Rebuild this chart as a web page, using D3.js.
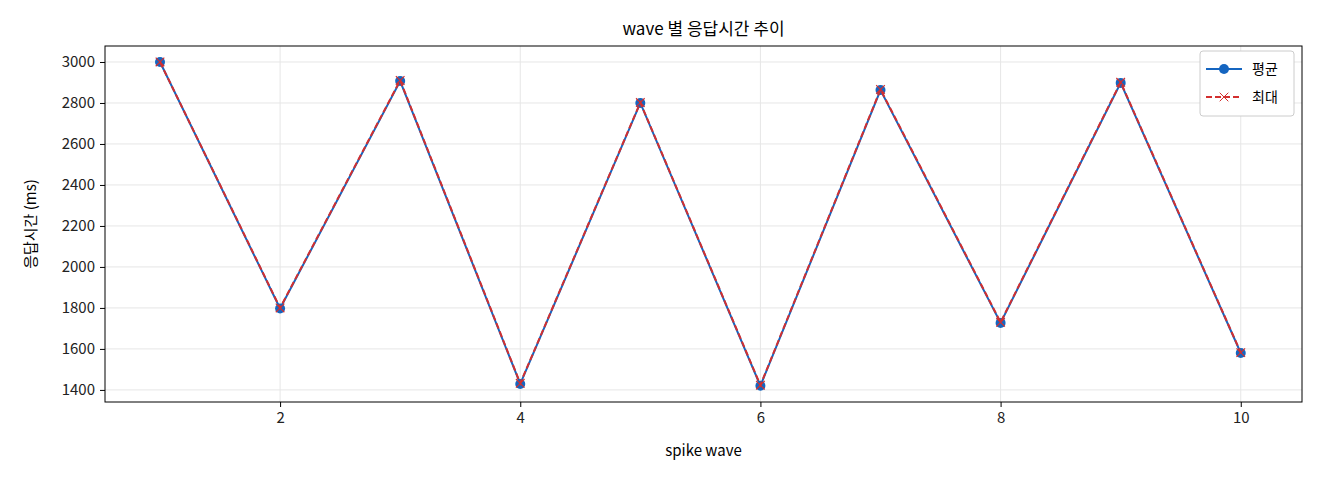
<!DOCTYPE html><html><head><meta charset="utf-8"><script src="https://cdn.jsdelivr.net/npm/d3@7"></script>
<style>body{margin:0;background:#fff}text{font-family:"Noto Sans CJK KR","Noto Sans",sans-serif}</style></head><body><svg id="c" width="1320" height="480"></svg><script>
const waves=[1,2,3,4,5,6,7,8,9,10];
const avgMs=[3000,1797,2907,1429,2800,1420,2863,1727,2898,1580];
const maxMs=[3000,1800,2910,1432,2802,1423,2866,1730,2901,1582];
const yTicks=[1400,1600,1800,2000,2200,2400,2600,2800,3000];
const xTicks=[2,4,6,8,10];
const svg=d3.select("#c");
const L=105,R=1302,T=46,B=402;
const x=d3.scaleLinear().domain([0.542,10.51]).range([L,R]);
const y=d3.scaleLinear().domain([1341,3078]).range([B,T]);
const g=svg.append("g");
g.selectAll(".gx").data(xTicks).join("line").attr("x1",d=>x(d)).attr("x2",d=>x(d)).attr("y1",T).attr("y2",B).attr("stroke","#e6e6e6");
g.selectAll(".gy").data(yTicks).join("line").attr("y1",d=>y(d)).attr("y2",d=>y(d)).attr("x1",L).attr("x2",R).attr("stroke","#e6e6e6");
const ax=svg.append("g").attr("transform",`translate(0,${B})`).call(d3.axisBottom(x).tickValues(xTicks).tickFormat(d3.format("d")).tickSize(5).tickPadding(5));
const ay=svg.append("g").attr("transform",`translate(${L},0)`).call(d3.axisLeft(y).tickValues(yTicks).tickFormat(d3.format("d")).tickSize(5).tickPadding(5));
[ax,ay].forEach(a=>{a.select(".domain").remove();a.selectAll("text").attr("font-size",15).attr("fill","#222").style("font-family",'"Noto Sans CJK KR"');});
svg.append("rect").attr("x",L).attr("y",T).attr("width",R-L).attr("height",B-T).attr("fill","none").attr("stroke","#000");
const line=d3.line().x((d,i)=>x(waves[i])).y(d=>y(d));
svg.append("path").datum(avgMs).attr("d",line).attr("fill","none").attr("stroke","#1565C0").attr("stroke-width",2);
svg.selectAll(".pt").data(avgMs).join("circle").attr("cx",(d,i)=>x(waves[i])).attr("cy",d=>y(d)).attr("r",5).attr("fill","#1565C0");
svg.append("path").datum(maxMs).attr("d",line).attr("fill","none").attr("stroke","#D32F2F").attr("stroke-width",2).attr("stroke-dasharray","6,3");
const cross=d3.symbol().type(d3.symbolX).size(50);
svg.selectAll(".mx").data(maxMs).join("path").attr("d",cross).attr("transform",(d,i)=>`translate(${x(waves[i])},${y(d)})`).attr("fill","#D32F2F").attr("stroke","#D32F2F").attr("stroke-width",1.2);
svg.append("text").attr("x",(L+R)/2).attr("y",35).attr("text-anchor","middle").attr("font-size",17).text("wave 별 응답시간 추이");
svg.append("text").attr("x",(L+R)/2).attr("y",456).attr("text-anchor","middle").attr("font-size",15).text("spike wave");
svg.append("text").attr("transform",`translate(36,${(T+B)/2}) rotate(-90)`).attr("text-anchor","middle").attr("font-size",15).text("응답시간 (ms)");
const lg=svg.append("g");
lg.append("rect").attr("x",1200).attr("y",51).attr("width",94).attr("height",65).attr("rx",3).attr("fill","#fff").attr("stroke","#ccc");
lg.append("line").attr("x1",1206).attr("x2",1242).attr("y1",69).attr("y2",69).attr("stroke","#1565C0").attr("stroke-width",2);
lg.append("circle").attr("cx",1224).attr("cy",69).attr("r",5).attr("fill","#1565C0");
lg.append("text").attr("x",1252).attr("y",74).attr("font-size",14).text("평균");
lg.append("line").attr("x1",1206).attr("x2",1242).attr("y1",97).attr("y2",97).attr("stroke","#D32F2F").attr("stroke-width",2).attr("stroke-dasharray","6,3");
lg.append("path").attr("d",cross).attr("transform","translate(1224,97)").attr("fill","#D32F2F").attr("stroke","#D32F2F");
lg.append("text").attr("x",1252).attr("y",102).attr("font-size",14).text("최대");
</script></body></html>
